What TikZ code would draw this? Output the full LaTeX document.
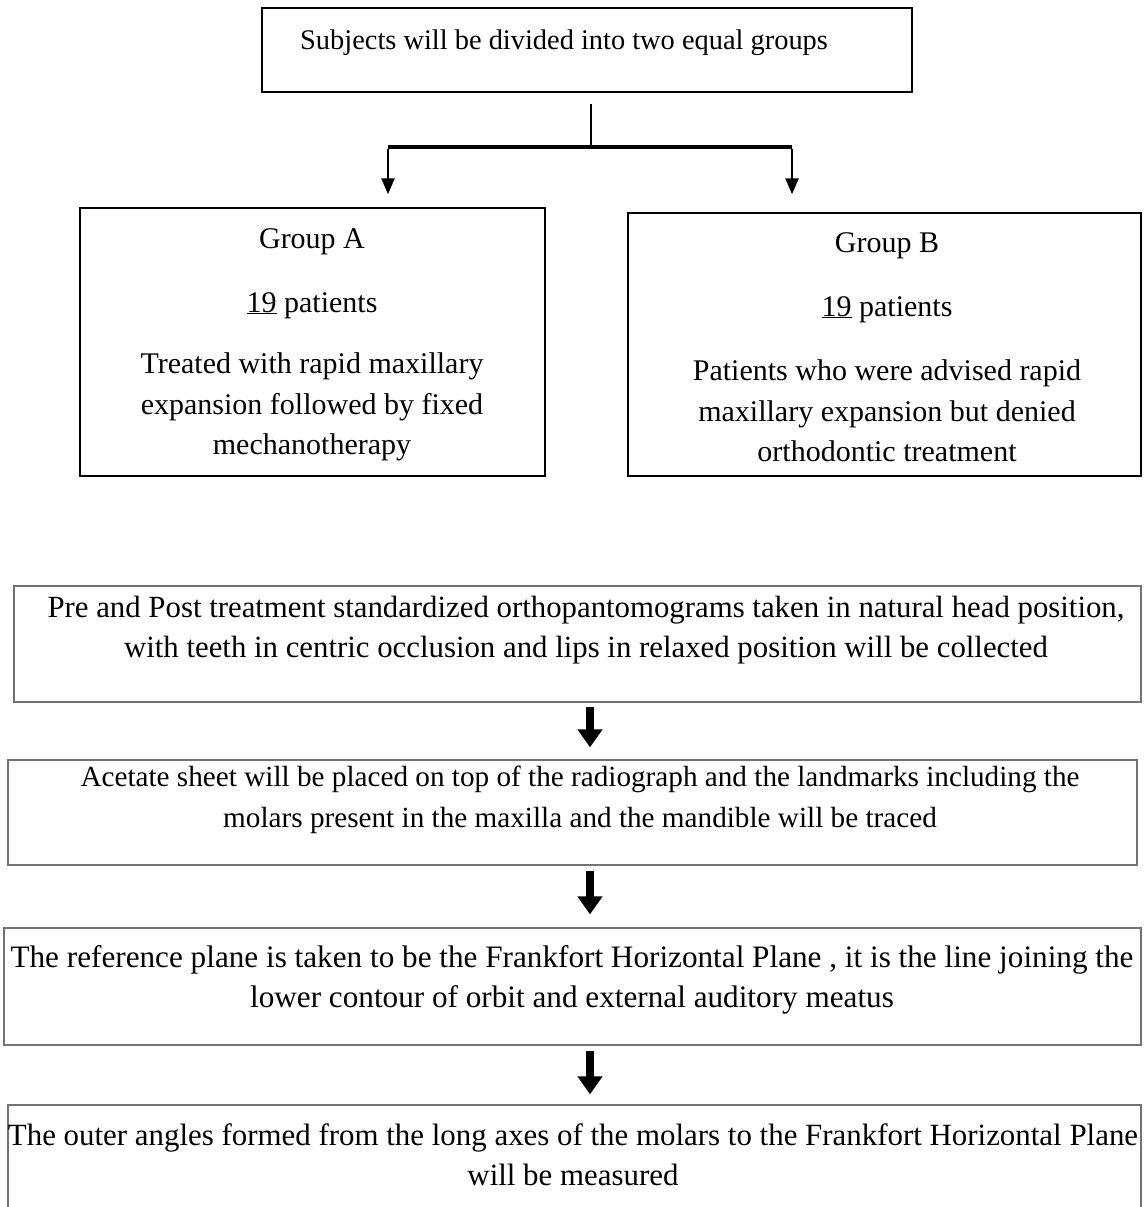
\documentclass[tikz,border=0pt]{standalone}
\usepackage{fontspec}
\setmainfont{Liberation Serif}
\usetikzlibrary{arrows.meta}
\begin{document}
\begin{tikzpicture}[x=1pt,y=-1pt,
  topbox/.style={draw=black, line width=1.5pt, inner sep=0pt},
  lowbox/.style={draw=black!55, line width=1.3pt, inner sep=0pt},
  txt/.style={inner sep=0pt, align=center, font=\fontsize{#1}{40.5}\selectfont},
  txt/.default=30,
  conn/.style={line width=2.5pt},
  thinarrow/.style={line width=2.5pt, -{Triangle[width=13pt,length=16pt]}},
  fatarrow/.style={line width=8pt, -{Triangle[width=24pt,length=18pt]}}
]
\useasboundingbox (0,0) rectangle (1143,1207);

% boxes
\node[topbox, minimum width=650pt, minimum height=84pt] (top) at (587,50) {};
\node[topbox, minimum width=465pt, minimum height=268pt] (ga) at (312.5,342) {};
\node[topbox, minimum width=513pt, minimum height=263pt] (gb) at (884.5,344.5) {};
\node[lowbox, minimum width=1127pt, minimum height=116pt] (b3) at (577.5,644) {};
\node[lowbox, minimum width=1129pt, minimum height=105pt] (b4) at (572.5,812.5) {};
\node[lowbox, minimum width=1137pt, minimum height=117pt] (b5) at (572.5,986.5) {};
\node[lowbox, minimum width=1133pt, minimum height=110pt] (b6) at (574.5,1160) {};

% texts
\node[txt=28.4, anchor=base west] (ttop) at (300,49) {Subjects will be divided into two equal groups};

\node[txt, anchor=base] (gat1) at (312,248) {Group A};
\node[txt, anchor=base] (gat2) at (312,312) {\underline{19} patients};
\node[txt] (gat3) at (312,407) {Treated with rapid maxillary\\expansion followed by fixed\\mechanotherapy};

\node[txt, anchor=base] (gbt1) at (887,252) {Group B};
\node[txt, anchor=base] (gbt2) at (887,316) {\underline{19} patients};
\node[txt] (gbt3) at (887,411) {Patients who were advised rapid\\maxillary expansion but denied\\orthodontic treatment};

\node[txt=30.8] (t3) at (586,630) {Pre and Post treatment standardized orthopantomograms taken in natural head position,\\with teeth in centric occlusion and lips in relaxed position will be collected};
\node[txt=29.2] (t4) at (580,800) {Acetate sheet will be placed on top of the radiograph and the landmarks including the\\molars present in the maxilla and the mandible will be traced};
\node[txt=31.2] (t5) at (572,980) {The reference plane is taken to be the Frankfort Horizontal Plane , it is the line joining the\\lower contour of orbit and external auditory meatus};
\node[txt=30.9] (t6) at (573,1155) {The outer angles formed from the long axes of the molars to the Frankfort Horizontal Plane\\will be measured};

% top connectors
\coordinate (j) at (591,147);
\coordinate (jl) at (388,147);
\coordinate (jr) at (792,147);
\draw[conn, shorten <=11pt] (top.south -| j) -- (j);
\draw[line width=4pt] (jl) -- (jr);
\draw[thinarrow, shorten >=13pt] ([yshift=-2pt]jl) -- (jl |- ga.north);
\draw[thinarrow, shorten >=18pt] ([yshift=-2pt]jr) -- (jr |- gb.north);

% fat arrows
\coordinate (ax) at (590,0);
\draw[fatarrow, shorten <=4pt, shorten >=12pt] (b3.south -| ax) -- (b4.north -| ax);
\draw[fatarrow, shorten <=5pt, shorten >=13pt] (b4.south -| ax) -- (b5.north -| ax);
\draw[fatarrow, shorten <=5pt, shorten >=10pt] (b5.south -| ax) -- (b6.north -| ax);
\end{tikzpicture}
\end{document}
